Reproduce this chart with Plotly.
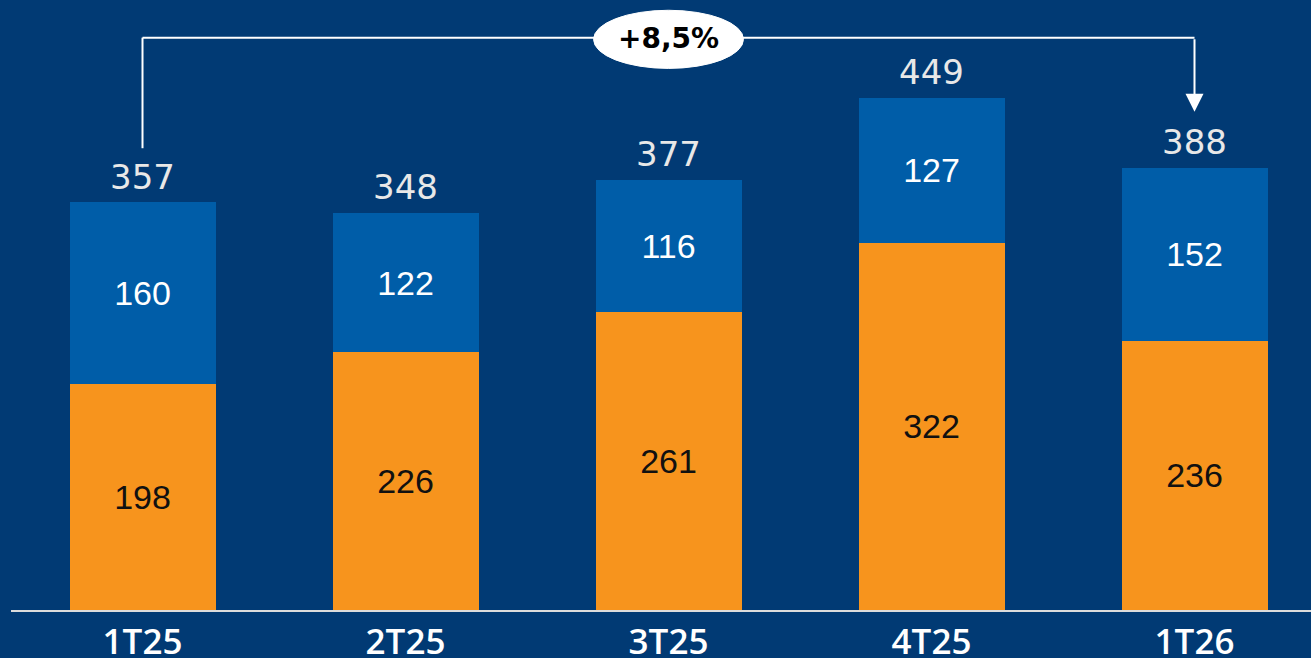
import plotly.graph_objects as go

categories = ["1T25", "2T25", "3T25", "4T25", "1T26"]
orange_vals = [198, 226, 261, 322, 236]
blue_vals = [160, 122, 116, 127, 152]
totals = [357, 348, 377, 449, 388]
growth_label = "+8,5%"

BG = "#013a74"
BLUE = "#005da8"
ORANGE = "#f7941d"

fig = go.Figure()
fig.add_trace(go.Bar(
    x=categories, y=orange_vals, marker=dict(color=ORANGE, line=dict(width=0)),
    text=orange_vals, textposition="inside", insidetextanchor="middle",
    textfont=dict(family="Liberation Sans, Arial", size=34, color="#111111"),
    constraintext="none", hoverinfo="skip",
))
fig.add_trace(go.Bar(
    x=categories, y=blue_vals, marker=dict(color=BLUE, line=dict(width=0)),
    text=blue_vals, textposition="inside", insidetextanchor="middle",
    textfont=dict(family="Liberation Sans, Arial", size=34, color="#ffffff"),
    constraintext="none", hoverinfo="skip",
))

# total labels
for c, t in zip(categories, totals):
    fig.add_annotation(x=c, y=t, text=str(t), showarrow=False, yanchor="bottom",
                       yshift=4, font=dict(family="DejaVu Sans", size=34, color="#e8e8e8"))

# bracket
bracket_y = max(totals) + 53
left_start = totals[0] + 48
arrow_tip = totals[-1] + 49
line_style = dict(color="white", width=2)
fig.add_shape(type="line", x0=0, x1=0, y0=left_start, y1=bracket_y, xref="x", yref="y", line=line_style)
fig.add_shape(type="line", x0=0, x1=len(categories) - 1, y0=bracket_y, y1=bracket_y, xref="x", yref="y", line=line_style)
fig.add_annotation(x=len(categories) - 1, y=arrow_tip, ax=len(categories) - 1, ay=bracket_y,
                   xref="x", yref="y", axref="x", ayref="y", text="", showarrow=True,
                   arrowhead=2, arrowsize=1.8, arrowwidth=2, arrowcolor="white", standoff=0)
mid = (len(categories) - 1) / 2
fig.add_shape(type="circle", x0=mid - 0.285, x1=mid + 0.285, y0=bracket_y - 27, y1=bracket_y + 24,
              xref="x", yref="y", fillcolor="white", line=dict(color="white", width=1), layer="above")
fig.add_annotation(x=mid, y=bracket_y - 1, text="<b>" + growth_label + "</b>", showarrow=False,
                   font=dict(family="DejaVu Sans", size=28, color="#000000"))

px_per_cat = 263
fig.update_layout(
    width=1311, height=658,
    margin=dict(l=11, r=0, t=0, b=48),
    paper_bgcolor=BG, plot_bgcolor=BG,
    barmode="stack", bargap=1 - 146 / px_per_cat,
    showlegend=False,
    xaxis=dict(range=[-0.5, -0.5 + 1300 / px_per_cat], showgrid=False, zeroline=False,
               showline=True, linecolor="#dcdcdc", linewidth=2, ticks="", automargin=False,
               tickfont=dict(family="Open Sans", size=35, color="white", weight=600),
               ticklabelstandoff=0, fixedrange=True),
    yaxis=dict(range=[0, 535], showgrid=False, zeroline=False, showticklabels=False,
               showline=False, fixedrange=True, automargin=False),
)
fig.write_html("out.html", config={"displayModeBar": False},
               post_script="document.body.style.margin='0px';document.body.style.background='" + BG + "';")
